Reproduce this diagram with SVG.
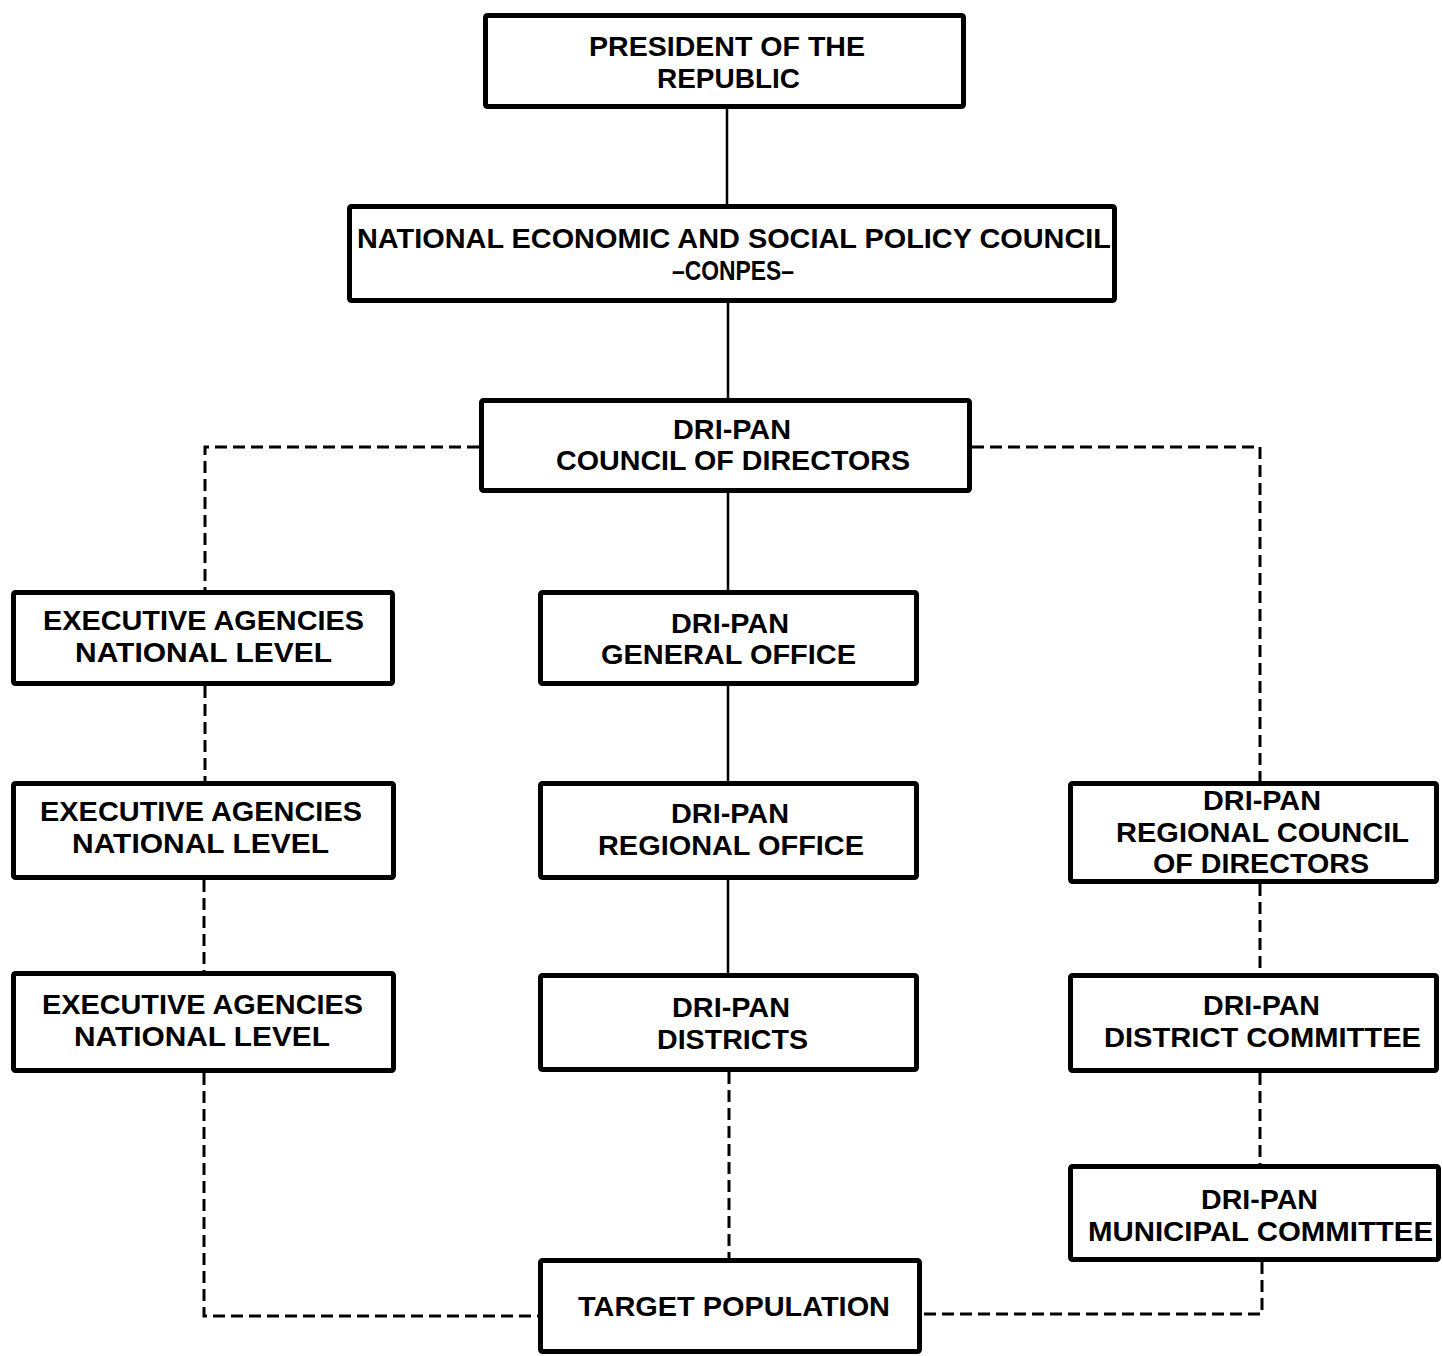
<svg xmlns="http://www.w3.org/2000/svg" width="1443" height="1356" viewBox="0 0 1443 1356">
<style>
.box{fill:#fff;stroke:#000;stroke-width:5;stroke-linejoin:round}
.t{font-family:"Liberation Sans",Arial,sans-serif;font-weight:bold;font-size:28px;fill:#000;text-anchor:middle}
.solid{fill:none;stroke:#000;stroke-width:2.5}
.dash{fill:none;stroke:#000;stroke-width:3;stroke-dasharray:12 6}
</style>
<rect width="1443" height="1356" fill="#fff"/>
<g id="connectors">
<path class="solid" d="M727,109V204M728,303V398M728,493V590M728,686V781M728,880V973"/>
<path class="dash" d="M479,447H205V590"/>
<path class="dash" d="M205,686V781"/>
<path class="dash" d="M204,880V971"/>
<path class="dash" d="M204,1073V1316H538"/>
<path class="dash" d="M972,447H1260V781"/>
<path class="dash" d="M1260,884V973"/>
<path class="dash" d="M1260,1073V1164"/>
<path class="dash" d="M1262,1262V1314H922"/>
<path class="dash" d="M729,1072V1258"/>
</g>
<g id="president">
<rect class="box" x="485.5" y="15.5" width="478" height="91" rx="2"/>
<text class="t" x="727" y="56" textLength="276" lengthAdjust="spacingAndGlyphs">PRESIDENT OF THE</text>
<text class="t" x="728.5" y="88" textLength="143" lengthAdjust="spacingAndGlyphs">REPUBLIC</text>
</g>
<g id="conpes">
<rect class="box" x="349.5" y="206.5" width="765" height="94" rx="2"/>
<text class="t" x="734" y="248" textLength="754" lengthAdjust="spacingAndGlyphs">NATIONAL ECONOMIC AND SOCIAL POLICY COUNCIL</text>
<text class="t" x="733" y="280" textLength="122" lengthAdjust="spacingAndGlyphs">–CONPES–</text>
</g>
<g id="council">
<rect class="box" x="481.5" y="400.5" width="488" height="90" rx="2"/>
<text class="t" x="732" y="439" textLength="118" lengthAdjust="spacingAndGlyphs">DRI-PAN</text>
<text class="t" x="733" y="470" textLength="354" lengthAdjust="spacingAndGlyphs">COUNCIL OF DIRECTORS</text>
</g>
<g id="exec1">
<rect class="box" x="13.5" y="592.5" width="379" height="91" rx="2"/>
<text class="t" x="203.5" y="630" textLength="321" lengthAdjust="spacingAndGlyphs">EXECUTIVE AGENCIES</text>
<text class="t" x="203.5" y="662" textLength="257" lengthAdjust="spacingAndGlyphs">NATIONAL LEVEL</text>
</g>
<g id="general-office">
<rect class="box" x="540.5" y="592.5" width="376" height="91" rx="2"/>
<text class="t" x="730" y="633" textLength="118" lengthAdjust="spacingAndGlyphs">DRI-PAN</text>
<text class="t" x="728.5" y="664" textLength="255" lengthAdjust="spacingAndGlyphs">GENERAL OFFICE</text>
</g>
<g id="exec2">
<rect class="box" x="13.5" y="783.5" width="380" height="94" rx="2"/>
<text class="t" x="201" y="821" textLength="322" lengthAdjust="spacingAndGlyphs">EXECUTIVE AGENCIES</text>
<text class="t" x="200.5" y="853" textLength="257" lengthAdjust="spacingAndGlyphs">NATIONAL LEVEL</text>
</g>
<g id="regional-office">
<rect class="box" x="540.5" y="783.5" width="376" height="94" rx="2"/>
<text class="t" x="730" y="823" textLength="118" lengthAdjust="spacingAndGlyphs">DRI-PAN</text>
<text class="t" x="731" y="855" textLength="266" lengthAdjust="spacingAndGlyphs">REGIONAL OFFICE</text>
</g>
<g id="regional-council">
<rect class="box" x="1070.5" y="783.5" width="366" height="98" rx="2"/>
<text class="t" x="1262" y="810" textLength="118" lengthAdjust="spacingAndGlyphs">DRI-PAN</text>
<text class="t" x="1262.5" y="842" textLength="293" lengthAdjust="spacingAndGlyphs">REGIONAL COUNCIL</text>
<text class="t" x="1261" y="873" textLength="216" lengthAdjust="spacingAndGlyphs">OF DIRECTORS</text>
</g>
<g id="exec3">
<rect class="box" x="13.5" y="973.5" width="380" height="97" rx="2"/>
<text class="t" x="202.5" y="1014" textLength="321" lengthAdjust="spacingAndGlyphs">EXECUTIVE AGENCIES</text>
<text class="t" x="202" y="1046" textLength="256" lengthAdjust="spacingAndGlyphs">NATIONAL LEVEL</text>
</g>
<g id="districts">
<rect class="box" x="540.5" y="975.5" width="376" height="94" rx="2"/>
<text class="t" x="731" y="1017" textLength="118" lengthAdjust="spacingAndGlyphs">DRI-PAN</text>
<text class="t" x="732.5" y="1049" textLength="151" lengthAdjust="spacingAndGlyphs">DISTRICTS</text>
</g>
<g id="district-committee">
<rect class="box" x="1070.5" y="975.5" width="366" height="95" rx="2"/>
<text class="t" x="1261.5" y="1015" textLength="117" lengthAdjust="spacingAndGlyphs">DRI-PAN</text>
<text class="t" x="1262.5" y="1047" textLength="317" lengthAdjust="spacingAndGlyphs">DISTRICT COMMITTEE</text>
</g>
<g id="municipal-committee">
<rect class="box" x="1070.5" y="1166.5" width="368" height="93" rx="2"/>
<text class="t" x="1259.5" y="1209" textLength="117" lengthAdjust="spacingAndGlyphs">DRI-PAN</text>
<text class="t" x="1260.5" y="1241" textLength="345" lengthAdjust="spacingAndGlyphs">MUNICIPAL COMMITTEE</text>
</g>
<g id="target-population">
<rect class="box" x="540.5" y="1260.5" width="379" height="91" rx="2"/>
<text class="t" x="734" y="1316" textLength="312" lengthAdjust="spacingAndGlyphs">TARGET POPULATION</text>
</g>
</svg>
